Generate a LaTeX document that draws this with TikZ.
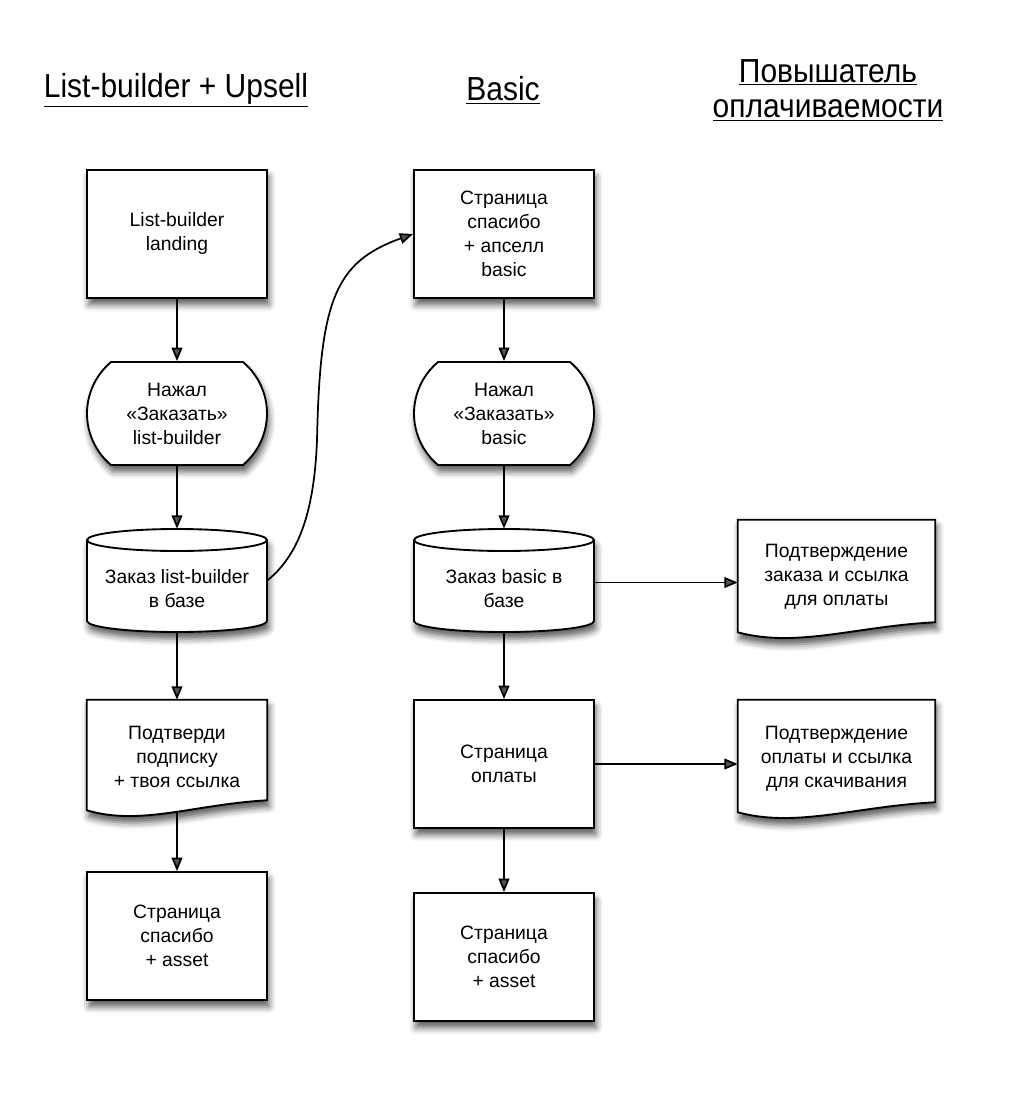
\documentclass[tikz,border=0pt]{standalone}
\usepackage{fontspec}
\setmainfont{Liberation Sans}
\newfontfamily\headfont[FakeStretch=0.9]{Liberation Sans}
\usetikzlibrary{arrows.meta,shapes.misc,shadows.blur,calc}
\begin{document}
\begin{tikzpicture}[x=0.75pt,y=-0.75pt,
  shd/.style={blur shadow={shadow xshift=1.5pt,shadow yshift=-5pt,shadow blur radius=5pt,shadow opacity=65}},
  txt/.style={align=center,font=\fontsize{14.5}{18}\selectfont,inner sep=0pt},
  box/.style={txt,draw,line width=1.4pt,fill=white,shd,minimum width=135pt,minimum height=96pt},
  term/.style={box,rounded rectangle,rounded rectangle arc length=100,minimum height=77.25pt},
  ghost/.style={txt,minimum width=135pt},
  shapeline/.style={draw,line width=1.4pt,fill=white,shd},
  arr/.style={-{Triangle[length=10pt,width=8pt]},line width=1.3pt},
  head/.style={align=center,inner sep=0pt,font=\headfont\fontsize{25}{26.5}\selectfont}]
\useasboundingbox (0,0) rectangle (1014,1102);

% headings
\node[head] (h1) at (176,90) {\underline{List-builder + Upsell}};
\node[head] (h2) at (503,90) {\underline{Basic}};
\node[head] (h3) at (828,90) {\underline{Повышатель}\\\underline{оплачиваемости}};

% column 1
\node[box] (r1a) at (177,234) {List-builder\\landing};
\node[term] (t1) at (177,413.5) {Нажал\\«Заказать»\\list-builder};
\node[ghost,minimum height=77.25pt] (c1) at (177,580.5) {};
\path[shapeline] (87,540) -- (87,621) arc[start angle=180,end angle=360,x radius=67.5pt,y radius=8.25pt]
  -- (267,540) arc[start angle=0,end angle=180,x radius=67.5pt,y radius=8.25pt] -- cycle;
\draw[line width=1.4pt] (87,540) arc[start angle=180,end angle=360,x radius=67.5pt,y radius=8.25pt];
\node[txt] (c1t) at (177,589) {Заказ list-builder\\в базе};
\node[ghost,minimum height=82.5pt] (d1) at (177,755) {};
\path[shapeline] (d1.north west) -- (d1.south west)
  .. controls ($(d1.south west)+(54,16)$) and ($(d1.south west)+(108,-6)$) .. coordinate[pos=0.53] (d1b) ($(d1.south east)+(0,-10)$)
  -- (d1.north east) -- cycle;
\node[txt] (d1t) at (177,757) {Подтверди\\подписку\\+ твоя ссылка};
\node[box] (r1e) at (177,936) {Страница\\спасибо\\+ asset};

% column 2
\node[box] (r2a) at (504,234) {Страница\\спасибо\\+ апселл\\basic};
\node[term] (t2) at (504,413.5) {Нажал\\«Заказать»\\basic};
\node[ghost,minimum height=77.25pt] (c2) at (504,580.5) {};
\path[shapeline] (414,540) -- (414,621) arc[start angle=180,end angle=360,x radius=67.5pt,y radius=8.25pt]
  -- (594,540) arc[start angle=0,end angle=180,x radius=67.5pt,y radius=8.25pt] -- cycle;
\draw[line width=1.4pt] (414,540) arc[start angle=180,end angle=360,x radius=67.5pt,y radius=8.25pt];
\node[txt] (c2t) at (504,589) {Заказ basic в\\базе};
\node[box] (r2d) at (504,764) {Страница\\оплаты};
\node[box] (r2e) at (504,957) {Страница\\спасибо\\+ asset};

% column 3
\node[ghost,minimum width=147.75pt,minimum height=84pt] (d3a) at (836.5,576) {};
\path[shapeline] (d3a.north west) -- (d3a.south west)
  .. controls ($(d3a.south west)+(59,16)$) and ($(d3a.south west)+(118,-6)$) .. ($(d3a.south east)+(0,-10)$)
  -- (d3a.north east) -- cycle;
\node[txt] (d3at) at (836.5,577) {Подтверждение\\заказа и ссылка\\для оплаты};
\node[ghost,minimum width=147.75pt,minimum height=84pt] (d3b) at (836.5,756) {};
\path[shapeline] (d3b.north west) -- (d3b.south west)
  .. controls ($(d3b.south west)+(59,16)$) and ($(d3b.south west)+(118,-6)$) .. ($(d3b.south east)+(0,-10)$)
  -- (d3b.north east) -- cycle;
\node[txt] (d3bt) at (836.5,759) {Подтверждение\\оплаты и ссылка\\для скачивания};

% connectors
\draw[arr] (r1a.south) -- (t1.north);
\draw[arr] (t1.south) -- (c1.north);
\draw[arr] (c1.south) -- (d1.north);
\draw[arr] (d1.south |- d1b) -- (r1e.north);
\draw[arr] (r2a.south) -- (t2.north);
\draw[arr] (t2.south) -- (c2.north);
\draw[arr] (c2.south) -- (r2d.north);
\draw[arr] (r2d.south) -- (r2e.north);
\draw[arr] ($(c2.east)+(0,2)$) -- ($(c2.east -| d3a.west)+(0,2)$);
\draw[arr] (r2d.east) -- (r2d.east -| d3b.west);
\draw[arr] (c1.east) .. controls (295,558) and (314,520) .. (317,440)
  .. controls (320,300) and (335,262) .. (r2a.west);
\end{tikzpicture}
\end{document}
